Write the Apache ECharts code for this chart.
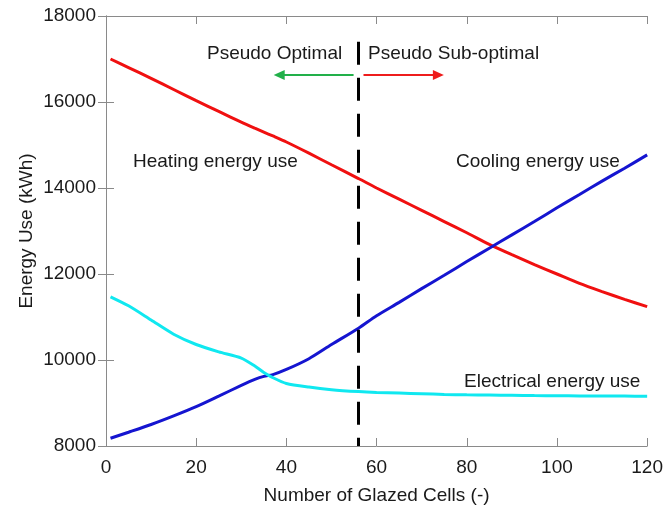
<!DOCTYPE html>
<html>
<head>
<meta charset="utf-8">
<script src="https://cdn.jsdelivr.net/npm/echarts@6/dist/echarts.min.js"></script>
<style>
  html, body { margin: 0; padding: 0; background: #fff; }
  #chart { width: 666px; height: 512px; }
</style>
</head>
<body>
<div id="chart"></div>
<script>
// Number of glazed cells at which each curve is sampled
const cells = [1, 5, 10, 15, 20, 25, 30, 33, 35, 37, 40, 45, 50, 56, 60, 65, 70, 75, 80, 85, 90, 95, 100, 105, 110, 115, 120];

// Annual energy use (kWh)
const heating = [17000, 16800, 16550, 16290, 16030, 15780, 15530, 15390, 15300, 15210, 15070, 14810, 14540, 14220, 14000, 13740, 13480, 13220, 12960, 12690, 12450, 12220, 12000, 11780, 11590, 11410, 11240];
const cooling = [8180, 8320, 8500, 8700, 8915, 9160, 9410, 9550, 9620, 9660, 9780, 10030, 10360, 10740, 11030, 11340, 11660, 11970, 12290, 12600, 12910, 13220, 13540, 13850, 14160, 14460, 14770];
const electrical = [11470, 11260, 10930, 10600, 10360, 10190, 10045, 9860, 9710, 9590, 9455, 9370, 9310, 9265, 9245, 9230, 9215, 9200, 9190, 9185, 9178, 9172, 9168, 9165, 9162, 9160, 9158];

// Boundary between the two regions and the direction arrows
const boundaryCells = 56;
const boundaryTop = 17400;
const arrowLevel = 16630;
const greenArrowX = [54.9, 38.4];
const redArrowX = [57.1, 73.7];

const xTicks = [0, 20, 40, 60, 80, 100, 120];
const yTicks = [8000, 10000, 12000, 14000, 16000, 18000];

const FONT = 'Liberation Sans, Arial, sans-serif';
const TXT = '#1a1a1a';

const pairs = ys => cells.map((c, i) => [c, ys[i]]);

const chart = echarts.init(document.getElementById('chart'), null, { renderer: 'canvas' });

const axisCommon = {
  axisLine: { show: true, lineStyle: { color: '#8a8a8a', width: 1 } },
  axisTick: { show: true, inside: true, length: 8, lineStyle: { color: '#8a8a8a', width: 1 } },
  splitLine: { show: false }
};

const lineCommon = { type: 'line', smooth: 0.25, symbol: 'none', z: 3 };

chart.setOption({
  animation: false,
  backgroundColor: '#ffffff',
  textStyle: { fontFamily: FONT },
  grid: { left: 106, right: 16, top: 16, bottom: 66, containLabel: false },
  xAxis: [
    Object.assign({
      type: 'value', min: xTicks[0], max: xTicks[xTicks.length - 1], interval: 20,
      name: 'Number of Glazed Cells (-)', nameLocation: 'middle', nameGap: 40, nameMoveOverlap: false,
      nameTextStyle: { fontSize: 19, color: TXT, fontFamily: FONT },
      axisLabel: { fontSize: 19, color: TXT, margin: 12, fontFamily: FONT }
    }, axisCommon),
    Object.assign({
      type: 'value', position: 'top', min: 0, max: 120, interval: 20,
      axisLabel: { show: false }
    }, axisCommon)
  ],
  yAxis: [
    Object.assign({
      type: 'value', min: yTicks[0], max: yTicks[yTicks.length - 1], interval: 2000,
      name: 'Energy Use (kWh)', nameLocation: 'middle', nameGap: 70, nameRotate: 90, nameMoveOverlap: false,
      nameTextStyle: { fontSize: 19, color: TXT, fontFamily: FONT },
      axisLabel: { fontSize: 19, color: TXT, margin: 10, fontFamily: FONT, formatter: v => String(v) }
    }, axisCommon),
    Object.assign({
      type: 'value', position: 'right', min: 8000, max: 18000, interval: 2000,
      axisLabel: { show: false }
    }, axisCommon)
  ],
  series: [
    Object.assign({
      name: 'Heating energy use', data: pairs(heating),
      lineStyle: { color: '#f01010', width: 3 }
    }, lineCommon),
    Object.assign({
      name: 'Cooling energy use', data: pairs(cooling),
      lineStyle: { color: '#1515d0', width: 3 }
    }, lineCommon),
    Object.assign({
      name: 'Electrical energy use', data: pairs(electrical),
      lineStyle: { color: '#10e8f0', width: 3 },
      markLine: {
        silent: true, animation: false, symbol: ['none', 'none'], label: { show: false },
        data: [
          [
            { coord: [boundaryCells, boundaryTop], lineStyle: { color: '#000', width: 3, type: [23, 13] } },
            { coord: [boundaryCells, 8000] }
          ],
          [
            { coord: [greenArrowX[0], arrowLevel], symbol: 'none', lineStyle: { color: '#22b04a', width: 2, type: 'solid' } },
            { coord: [greenArrowX[1], arrowLevel], symbol: 'triangle', symbolSize: [10, 11], symbolRotate: 90 }
          ],
          [
            { coord: [redArrowX[0], arrowLevel], symbol: 'none', lineStyle: { color: '#ee1c1c', width: 2, type: 'solid' } },
            { coord: [redArrowX[1], arrowLevel], symbol: 'triangle', symbolSize: [10, 11] }
          ]
        ]
      }
    }, lineCommon)
  ],
  graphic: [
    { type: 'text', left: 207, top: 44, style: { text: 'Pseudo Optimal', font: '19px ' + FONT, fill: TXT } },
    { type: 'text', left: 368, top: 44, style: { text: 'Pseudo Sub-optimal', font: '19px ' + FONT, fill: TXT } },
    { type: 'text', left: 133, top: 152, style: { text: 'Heating energy use', font: '19px ' + FONT, fill: TXT } },
    { type: 'text', left: 456, top: 152, style: { text: 'Cooling energy use', font: '19px ' + FONT, fill: TXT } },
    { type: 'text', left: 464, top: 372, style: { text: 'Electrical energy use', font: '19px ' + FONT, fill: TXT } }
  ]
});
</script>
</body>
</html>
